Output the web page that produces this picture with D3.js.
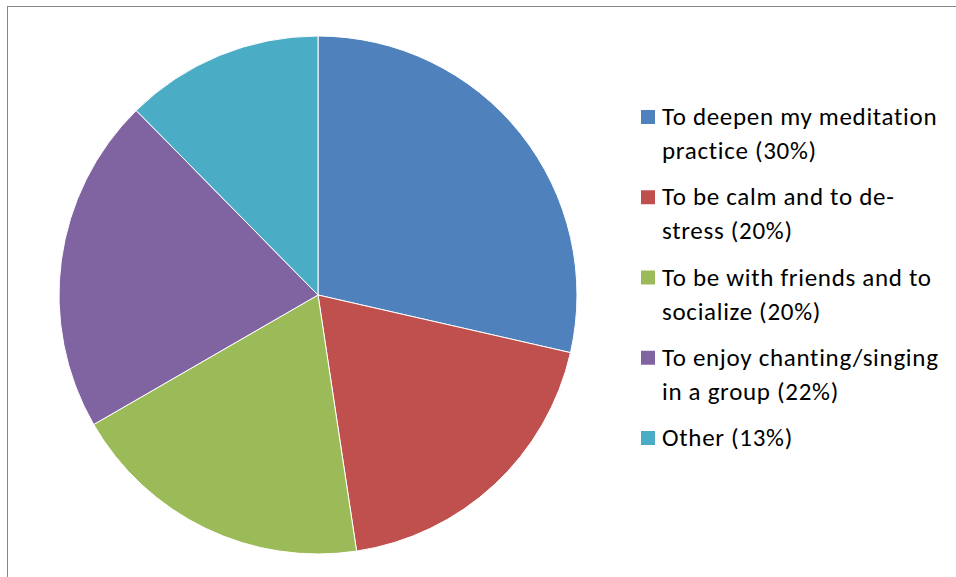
<!DOCTYPE html>
<html>
<head>
<meta charset="utf-8">
<script src="https://cdn.jsdelivr.net/npm/d3@7"></script>
<style>
  html, body { margin: 0; padding: 0; background: #fff; }
  svg { display: block; }
</style>
</head>
<body>
<svg id="chart" width="956" height="577"></svg>
<script>
// Reasons for attending (share of respondents)
const categories = [
  ["To deepen my meditation", "practice (30%)"],
  ["To be calm and to de-", "stress (20%)"],
  ["To be with friends and to", "socialize (20%)"],
  ["To enjoy chanting/singing", "in a group (22%)"],
  ["Other (13%)"]
];
const values = [30, 20, 20, 22, 13];
const colors = ["#4F81BD", "#C0504D", "#9BBB59", "#8064A2", "#4BACC6"];

const svg = d3.select("#chart");

// Chart frame
svg.append("rect")
  .attr("x", 7.5).attr("y", 6.5)
  .attr("width", 1200).attr("height", 1200)
  .attr("fill", "none")
  .attr("stroke", "#868686")
  .attr("stroke-width", 1);

const cx = 318, cy = 295, radius = 259;

const pie = d3.pie().sort(null).value(d => d);
const arc = d3.arc().innerRadius(0).outerRadius(radius);

const g = svg.append("g").attr("transform", `translate(${cx},${cy})`);
g.selectAll("path")
  .data(pie(values))
  .join("path")
  .attr("d", arc)
  .attr("fill", (d, i) => colors[i])
  .attr("stroke", "#ffffff")
  .attr("stroke-width", 1);

// Legend
const legendX = 641, legendTop = 117, entryGap = 80.25, lineGap = 34;
const font = "Carlito, Calibri, Lato, sans-serif";
const legend = svg.append("g");
categories.forEach((lines, i) => {
  const y0 = legendTop + i * entryGap;
  legend.append("rect")
    .attr("x", legendX).attr("y", y0 - 7)
    .attr("width", 14).attr("height", 14)
    .attr("fill", colors[i]);
  const t = legend.append("text")
    .attr("font-family", font)
    .attr("font-size", 25)
    .attr("letter-spacing", 0.7)
    .attr("fill", "#000");
  lines.forEach((line, j) => {
    t.append("tspan")
      .attr("x", legendX + 21)
      .attr("y", y0 + j * lineGap + 8)
      .text(line);
  });
});
</script>
</body>
</html>
